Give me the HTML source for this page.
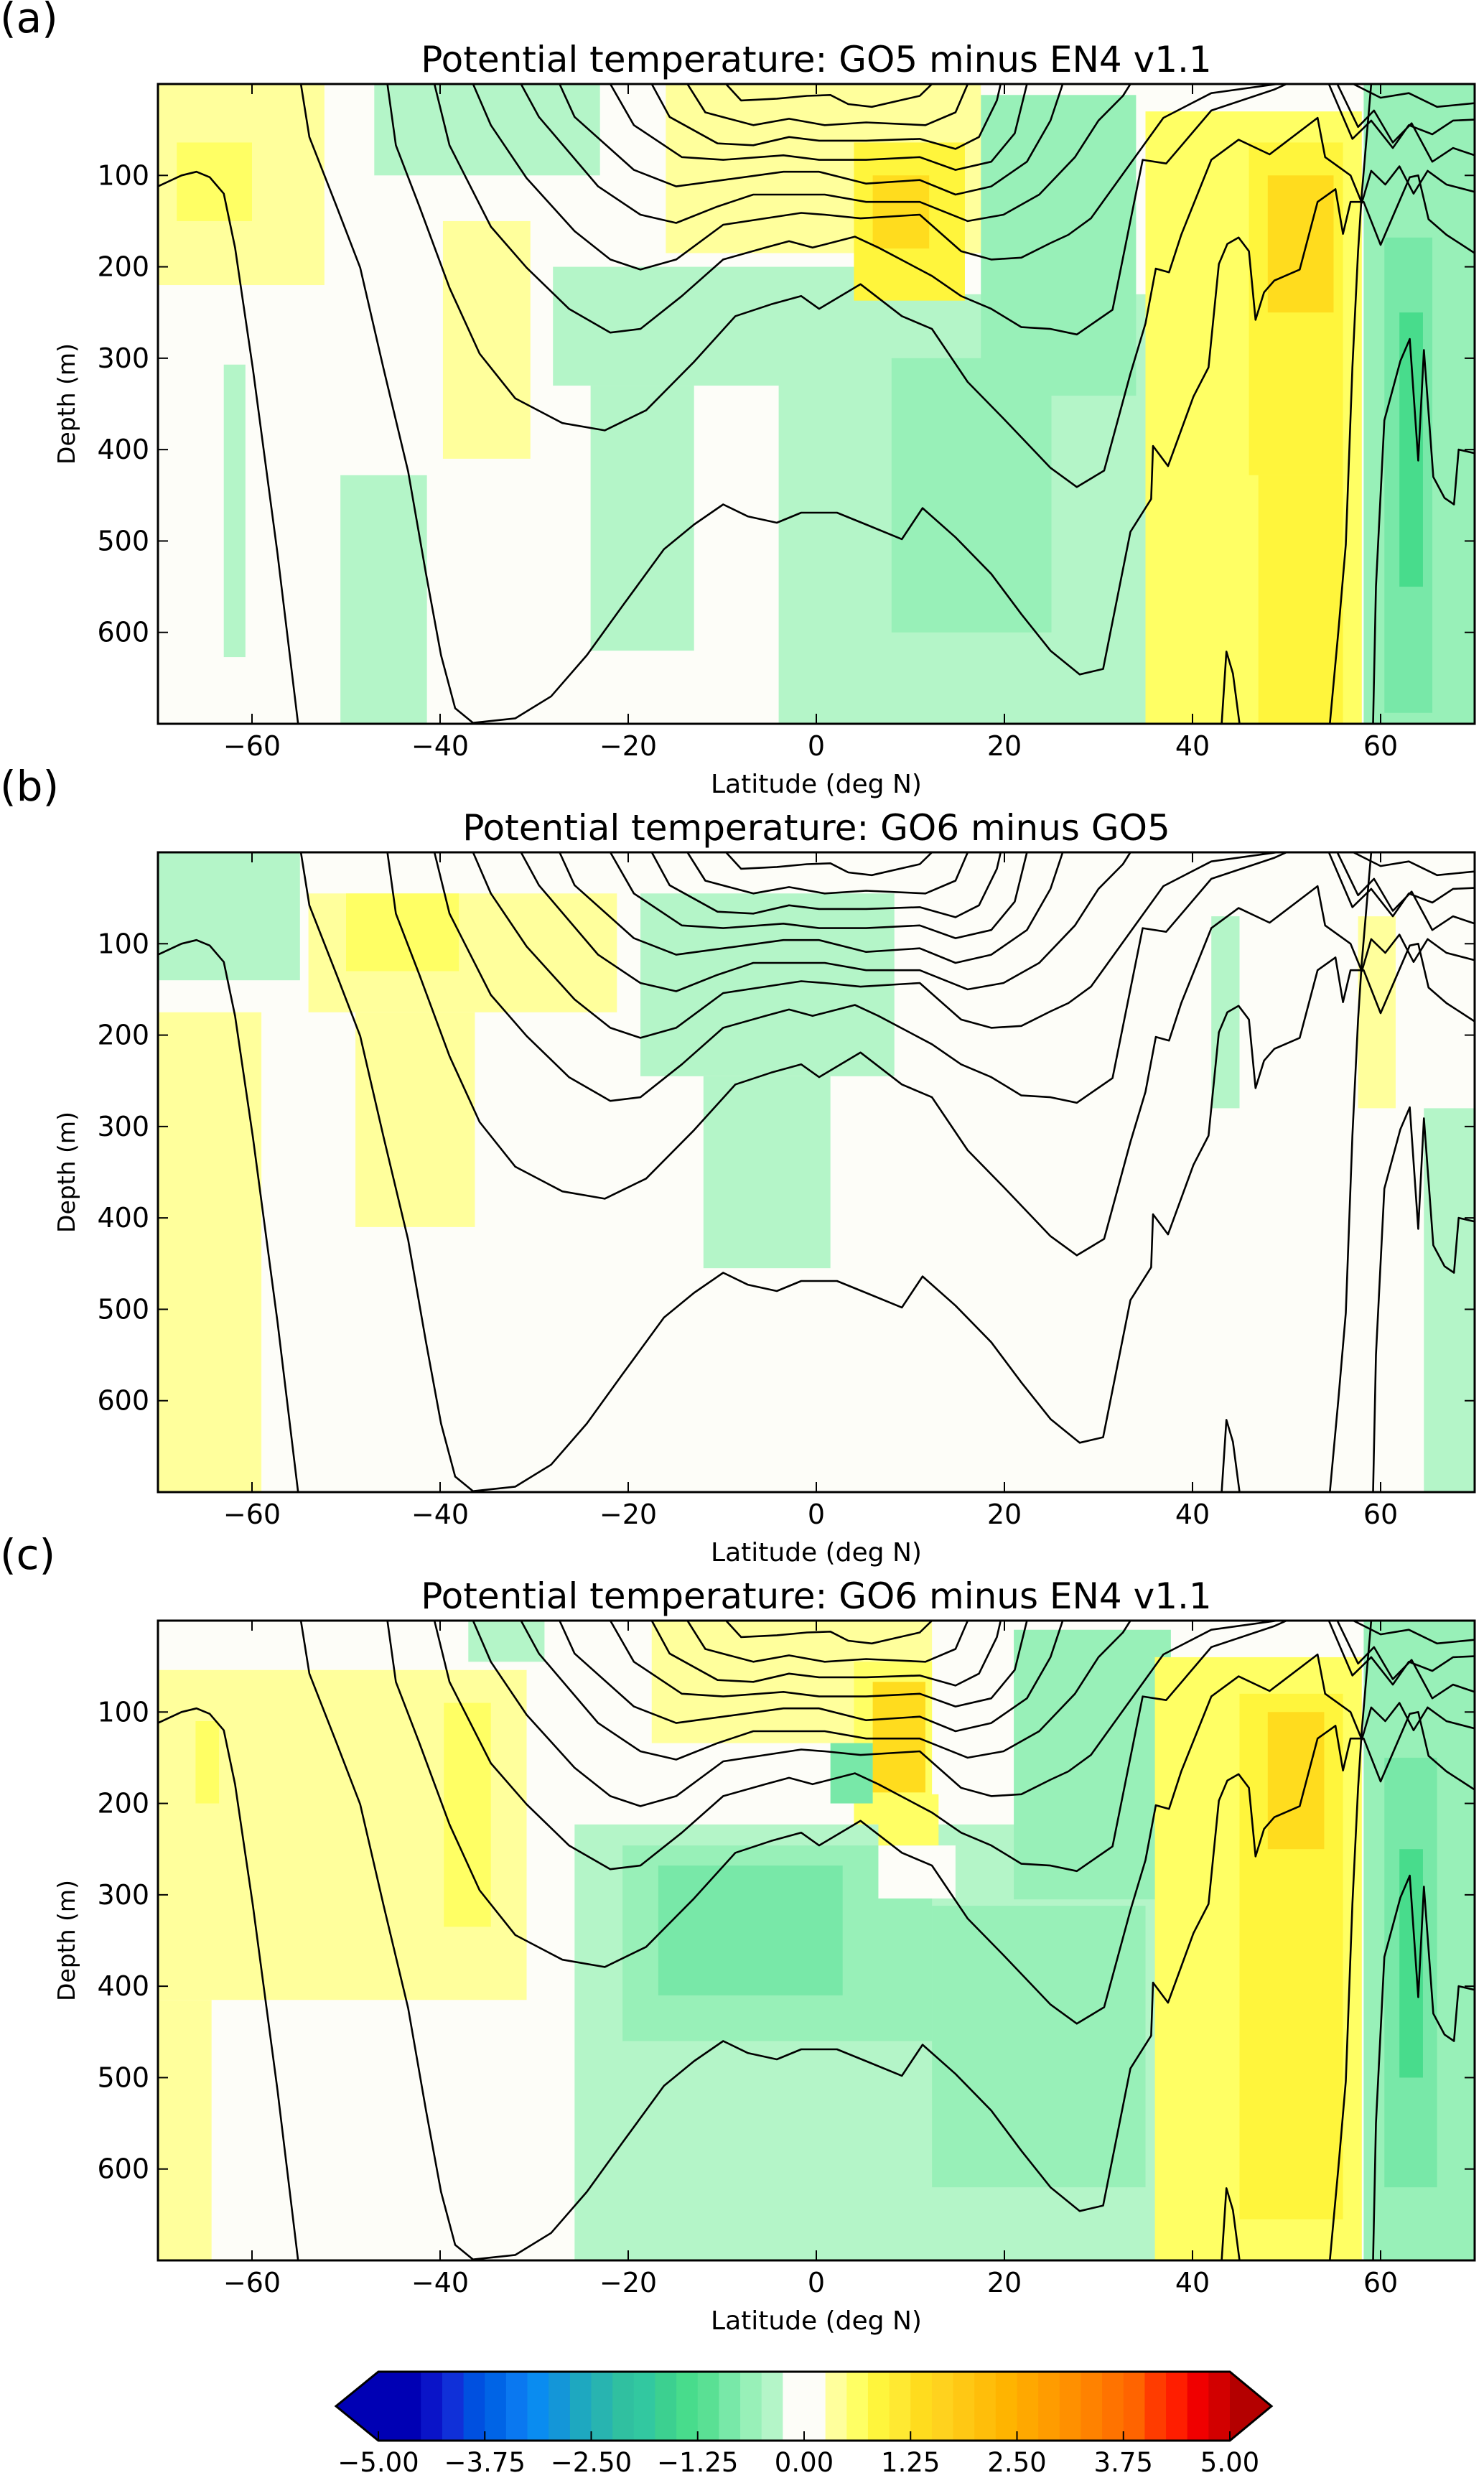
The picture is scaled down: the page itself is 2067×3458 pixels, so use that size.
<!DOCTYPE html>
<html><head><meta charset="utf-8"><style>
html,body{margin:0;padding:0;background:#fff}
svg{display:block;font-family:"DejaVu Sans","Liberation Sans",sans-serif}
</style></head><body>
<svg id="fig" xmlns="http://www.w3.org/2000/svg" width="2067" height="3458" viewBox="0 0 2067 3458"></svg>
<script>
// ---- data ----
const latTicks=[-60,-40,-20,0,20,40,60];
const depthTicks=[100,200,300,400,500,600];
const cbarTicks=[-5,-3.75,-2.5,-1.25,0,1.25,2.5,3.75,5];
const cbarColors=["#0000b4","#0000b4","#0a14c8","#1030d8","#0050e0","#0064e6","#0a78f0","#0a8cf0","#1496d8","#1ea8c0","#28b4b0","#30c0a0","#32c8a0","#3cd090","#48dc8c","#5ae094","#78e8a8","#98f0b8","#b4f5c8","#fdfdf8","#fdfdf8","#ffff9c","#ffff64","#fff53c","#ffe932","#ffdc1e","#ffd21e","#ffc814","#ffbe0a","#ffb400","#ffa800","#ff9c00","#ff9000","#ff8200","#ff7300","#ff6400","#ff3c00","#ff1e00","#f00000","#d20000"];
const panelTitles=["Potential temperature: GO5 minus EN4 v1.1","Potential temperature: GO6 minus GO5","Potential temperature: GO6 minus EN4 v1.1"];
const panelLetters=["(a)","(b)","(c)"];
// patches: [lat0, lat1, depth0, depth1, anomaly]
const patchesA=[[-70,-52.3,0,220,0.3],[-68,-60,64,150,0.6],[-39.7,-30.4,150,410,0.3],[-47,-23,0,100,-0.4],[-28,8,200,330,-0.4],[-24,-13,330,620,-0.4],[-4,40,230,700,-0.4],[8,25,300,600,-0.6],[-63,-60.7,307,627,-0.4],[-50.6,-41.4,428,700,-0.4],[-16,17.5,0,185,0.3],[4,15.8,64,237,0.8],[6,12,100,180,1.3],[17.5,34,12,341,-0.55],[35,58,30,700,0.6],[46,56,64,428,0.9],[48,55,100,250,1.3],[47,56,428,700,0.8],[58.2,70,0,700,-0.6],[60.4,65.5,168,688,-1.0],[62,64.5,250,550,-1.5]];
const patchesB=[[-70,-54.9,0,140,-0.4],[-54,-21.2,45,175,0.3],[-50,-38,45,130,0.6],[-49,-36.3,175,410,0.3],[-70,-59,175,700,0.3],[-18.7,8.3,45,245,-0.4],[-12,1.5,245,455,-0.4],[42,45,70,280,-0.4],[57.6,61.6,70,280,0.3],[64.6,70,280,700,-0.3]];
const patchesC=[[-70,-30.8,54,415,0.3],[-66,-63.5,110,200,0.6],[-39.6,-34.6,90,335,0.6],[-70,-64.3,415,700,0.3],[-37,-28.9,0,45,-0.4],[-17.5,12.3,0,134,0.3],[4,12.3,45,223,0.7],[6,11.6,67,188,1.4],[-25.7,42,223,700,-0.4],[-20.6,12.3,246,460,-0.6],[-16.8,2.8,268,410,-0.8],[12.3,35,312,620,-0.6],[1.5,6,134,200,-0.8],[21,37.7,10,305,-0.55],[6.6,14.8,246,304,0],[6.6,13,190,246,0.7],[36,58,40,700,0.6],[45,56,80,655,0.9],[48,54,100,250,1.3],[58.2,70,0,700,-0.6],[60.4,66,150,620,-1.0],[62,64.5,250,500,-1.5]];
// contours: [lat, depth]
const cont1=[[-70,112],[-67.5,100],[-65.9,96],[-64.5,102],[-63,120],[-61.8,179],[-59.9,312],[-57.3,513],[-55.1,700]];
const cont2=[[-54.8,0],[-53.9,58],[-51,134],[-48.5,201],[-46,312],[-43.4,424],[-41.5,536],[-39.9,625],[-38.4,683],[-36.5,699],[-32,694],[-28.2,670],[-24.4,625],[-20.6,571],[-16.2,509],[-13,482],[-9.9,460],[-7.3,473],[-4.2,480],[-1.6,469],[2.2,469],[5.3,482],[9.1,498],[11.3,464],[14.8,496],[18.6,536],[21.8,580],[24.9,620],[28,646],[30.5,640],[33.4,490],[35.6,454],[35.8,396],[37.4,418],[40.1,342],[41.7,310],[42.8,197],[43.7,175],[44.9,168],[46,183],[46.7,258],[47.6,228],[48.7,215],[51.4,203],[53.3,129],[55.2,115],[56,164],[56.8,129],[58.2,129],[60,176],[61.5,140],[63.1,102],[64,100],[65.1,148],[67,165],[70,185]];
const cont3=[[-45.6,0],[-44.7,67],[-42.2,134],[-39,223],[-35.8,295],[-32,344],[-27,371],[-22.5,379],[-18.1,357],[-13,304],[-8.6,254],[-4.8,241],[-1.6,232],[0.3,246],[4.7,219],[9.1,254],[12.3,268],[16.1,326],[19.9,366],[24.9,420],[27.7,441],[30.6,423],[33.4,317],[35,262],[36.1,202],[37.5,206],[38.8,165],[42,83],[44.9,61],[48.2,77],[53.3,37],[54.1,80],[56.8,100],[58,130],[59,95],[60.5,110],[62,90],[63.5,120],[65,95],[67,110],[70,118]];
const cont4=[[-40.6,0],[-39,67],[-34.6,156],[-30.8,201],[-26.3,246],[-21.9,272],[-18.7,268],[-14.3,232],[-9.9,192],[-5.4,179],[-2.9,172],[-0.4,179],[4.1,167],[6.6,179],[12.3,210],[15.4,232],[18.6,246],[21.8,266],[24.9,268],[27.7,274],[31.5,247],[34.7,83],[37.2,87],[42,29],[48.7,6],[50,0]];
const cont5=[[-36.5,0],[-34.6,45],[-30.8,103],[-25.7,161],[-21.9,192],[-18.7,203],[-14.9,192],[-9.9,154],[-1.6,141],[0.9,143],[4.7,147],[11,143],[15.4,183],[18.6,192],[21.8,190],[24.9,174],[26.8,165],[29.2,147],[33.4,87],[36.9,37],[42,10],[49,0]];
const cont6=[[-31.4,0],[-29.5,36],[-23.2,112],[-18.7,143],[-14.9,152],[-10.5,134],[-6.7,121],[0.9,121],[5.3,129],[11,129],[16.1,150],[19.9,143],[23.7,121],[27.5,80],[30,40],[32.6,13],[33.4,0]];
const cont7=[[-27.3,0],[-25.7,36],[-19.4,94],[-14.9,112],[-9.9,105],[-3.5,96],[0.3,96],[5.3,109],[11,105],[14.8,121],[18.6,112],[22.4,85],[24.9,40],[26.2,0]];
const cont8=[[-21.9,0],[-19.4,45],[-14.3,80],[-9.9,83],[-3.5,78],[0.3,83],[5.3,83],[11,80],[14.8,94],[18.6,85],[21.1,54],[22.4,0]];
const cont9=[[-17.5,0],[-15.6,36],[-10.5,65],[-6.7,67],[-2.9,58],[0.3,62],[5.3,62],[11,60],[14.8,71],[17.3,58],[19.2,18],[19.6,0]];
const cont10=[[-13.7,0],[-11.8,31],[-6.7,45],[-2.9,38],[0.9,45],[5.3,42],[11.6,45],[14.8,31],[16.1,0]];
const cont11=[[-9.6,0],[-8,18],[-4.2,16],[-1,13],[1.5,12],[3.4,22],[5.9,25],[11,13],[12.3,0]];
const contR1=[[59.2,700],[59.5,550],[60.4,368],[62.1,303],[63.1,279],[64,412],[64.6,291],[65.6,430],[66.8,453],[67.8,460],[68.3,400],[70,404]];
const contR2=[[54.6,700],[55.5,600],[56.3,504],[57,310],[57.6,183],[58,120],[58.5,60],[59,0]];
const contR3=[[55.4,0],[57.6,47],[59.3,29],[61.3,64],[63.3,43],[65.5,85],[67.7,70],[70,78]];
const contR4=[[54.5,0],[57,60],[59,40],[61.3,70],[63,45],[65.5,55],[67.7,40],[70,39]];
const contR5=[[57.1,0],[60,15],[63,10],[66,25],[70,21]];
const contR6=[[43.1,700],[43.6,621],[44.3,645],[45,700]];
const contours=[cont1,cont2,cont3,cont4,cont5,cont6,cont7,cont8,cont9,cont10,cont11,contR1,contR2,contR3,contR4,contR5,contR6];

// ---- layout ----
const NS="http://www.w3.org/2000/svg";
const svg=document.getElementById('fig');
const L=220,R=2054,H=891;
const tops=[117,1187,2257];
const titleY=[100,1170,2240];
const letterY=[45,1115,2185];
function xs(lat){return L+(lat+70)/140*(R-L);}
function ys(d,top){return top+d/700*H;}
function el(tag,attrs,parent){const e=document.createElementNS(NS,tag);for(const k in attrs)e.setAttribute(k,attrs[k]);(parent||svg).appendChild(e);return e;}
function colorFor(v){let i=Math.floor((v+5)/0.25);i=Math.max(0,Math.min(39,i));return cbarColors[i];}
const defs=el('defs',{});
const patchSets=[patchesA,patchesB,patchesC];

tops.forEach((top,p)=>{
  const g=el('g',{});
  
  
  const cp=el('clipPath',{id:'clip'+p},defs);
  el('rect',{x:L,y:top,width:R-L,height:H},cp);
  const bg=el('rect',{x:L,y:top,width:R-L,height:H,fill:'#fdfdf8'},g);
  
  
  const hg=el('g',{'clip-path':'url(#clip'+p+')'},g);
  
  
  patchSets[p].forEach(pt=>{
    const r=el('rect',{x:xs(pt[0]),y:ys(pt[2],top),width:xs(pt[1])-xs(pt[0]),height:ys(pt[3],top)-ys(pt[2],top),fill:colorFor(pt[4])},hg);
    
    
  });
  const cg=el('g',{'clip-path':'url(#clip'+p+')',fill:'none',stroke:'#000','stroke-width':2.6,'stroke-linejoin':'round'},g);
  contours.forEach(c=>{
    const d=c.map((q,i)=>(i?'L':'M')+xs(q[0]).toFixed(1)+' '+ys(q[1],top).toFixed(1)).join(' ');
    const path=el('path',{d:d},cg);
    
    
  });
  const frame=el('rect',{x:L,y:top,width:R-L,height:H,fill:'none',stroke:'#000','stroke-width':3},g);
  
  
  latTicks.forEach(t=>{
    const x=xs(t);
    el('line',{x1:x,y1:top+H,x2:x,y2:top+H-14,stroke:'#000','stroke-width':2},g);
    el('line',{x1:x,y1:top,x2:x,y2:top+14,stroke:'#000','stroke-width':2},g);
    const tx=el('text',{x:x,y:top+H+44,'font-size':38,'text-anchor':'middle'},g);
    tx.textContent=(t<0?'\u2212':'')+Math.abs(t);
    
    
  });
  depthTicks.forEach(t=>{
    const y=ys(t,top);
    el('line',{x1:L,y1:y,x2:L+14,y2:y,stroke:'#000','stroke-width':2},g);
    el('line',{x1:R,y1:y,x2:R-14,y2:y,stroke:'#000','stroke-width':2},g);
    const tx=el('text',{x:L-12,y:y+13,'font-size':38,'text-anchor':'end'},g);
    tx.textContent=t;
    
    
  });
  const xl=el('text',{x:(L+R)/2,y:top+H+96,'font-size':36,'text-anchor':'middle'},g);
  xl.textContent='Latitude (deg N)';
  
  
  const yl=el('text',{x:0,y:0,'font-size':33,'text-anchor':'middle',transform:'translate(104,'+(top+H/2)+') rotate(-90)'},g);
  yl.textContent='Depth (m)';
  
  
  const tt=el('text',{x:(L+R)/2,y:titleY[p],'font-size':50,'text-anchor':'middle'},g);
  tt.textContent=panelTitles[p];
  
  
  const lt=el('text',{x:0,y:letterY[p],'font-size':58},g);
  lt.textContent=panelLetters[p];
  
  
});

// ---- colorbar ----
const cb=el('g',{});


const cbL=527,cbR=1713,cbT=3303,cbB=3399,cbM=3351;
const bw=(cbR-cbL)/cbarColors.length;
function cbx(v){return cbL+(v+5)/10*(cbR-cbL);}
cbarColors.forEach((c,i)=>{
  const r=el('rect',{x:cbL+i*bw,y:cbT,width:bw+0.6,height:cbB-cbT,fill:c},cb);
  
  
});
const lt=el('polygon',{points:`${cbL},${cbT} 468,${cbM} ${cbL},${cbB}`,fill:'#0000b4'},cb);


const rt=el('polygon',{points:`${cbR},${cbT} 1771,${cbM} ${cbR},${cbB}`,fill:'#b40000'},cb);


el('polygon',{points:`${cbL},${cbT} ${cbR},${cbT} 1771,${cbM} ${cbR},${cbB} ${cbL},${cbB} 468,${cbM}`,fill:'none',stroke:'#000','stroke-width':3},cb);
cbarTicks.forEach(t=>{
  const x=cbx(t);
  el('line',{x1:x,y1:cbB,x2:x,y2:cbB-13,stroke:'#000','stroke-width':2},cb);
  const tx=el('text',{x:x,y:3442,'font-size':37,'text-anchor':'middle'},cb);
  tx.textContent=(t<0?'\u2212':'')+Math.abs(t).toFixed(2);
  
  
});
</script>
</body></html>
